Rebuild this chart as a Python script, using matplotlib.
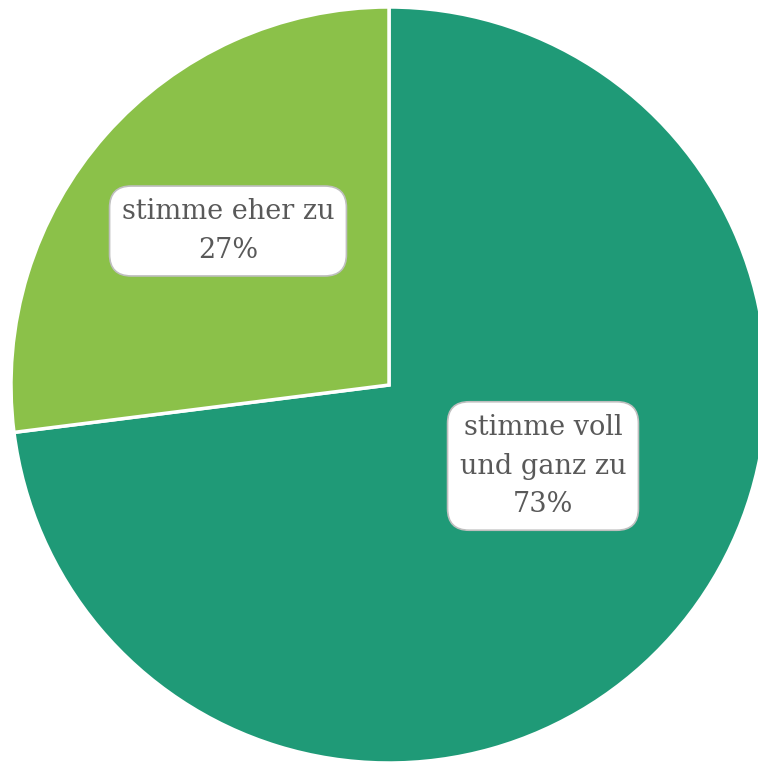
import matplotlib
matplotlib.use("Agg")
import matplotlib.pyplot as plt

categories = ["stimme voll\nund ganz zu", "stimme eher zu"]
values = [73, 27]
colors = ["#1F9A77", "#8BC149"]
label_pos = [(543, 466), (228, 231)]

W, H = 758, 762
fig = plt.figure(figsize=(W / 100, H / 100), dpi=100)
ax = fig.add_axes([0, 0, 1, 1])
cx, cy, r = 389, H - 385, 378
wedges, _ = ax.pie(values, colors=colors, startangle=90, counterclock=False,
                   center=(cx, cy), radius=r, frame=True,
                   wedgeprops=dict(edgecolor="white", linewidth=2.5))
for cat, v, (x, y) in zip(categories, values, label_pos):
    ax.text(x, H - y, f"{cat}\n{v}%", ha="center", va="center",
            fontsize=19.5, family="DejaVu Serif", color="#595959", linespacing=1.55,
            bbox=dict(boxstyle="round,pad=0.45,rounding_size=0.8", facecolor="white",
                      edgecolor="#BFBFBF", linewidth=1.2))
ax.set_xlim(0, W)
ax.set_ylim(0, H)
ax.set_aspect("equal")
ax.axis("off")
fig.savefig("out.png", dpi=100)
